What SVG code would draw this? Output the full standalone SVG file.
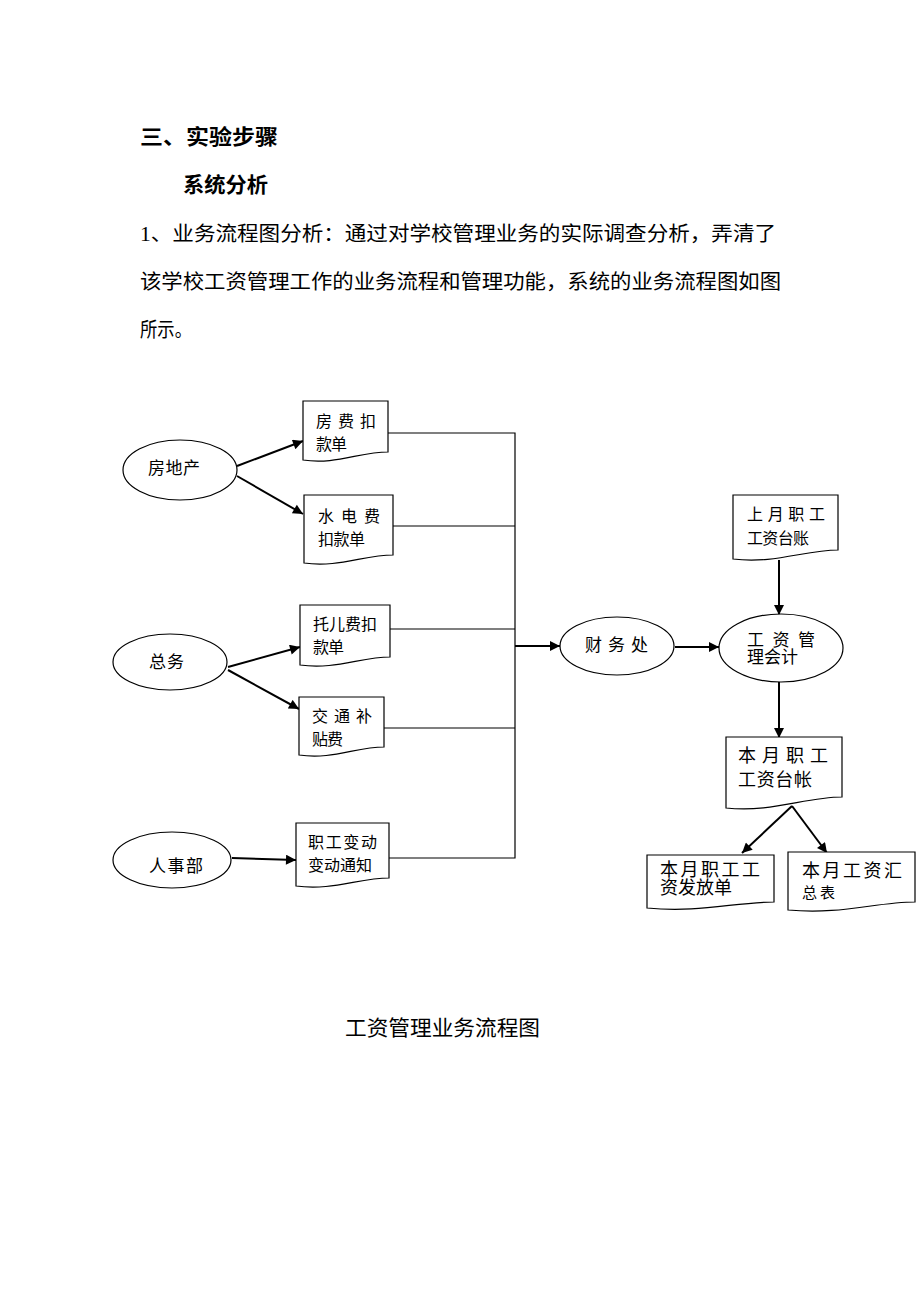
<svg xmlns="http://www.w3.org/2000/svg" width="920" height="1302" viewBox="0 0 920 1302">
<style>
text{font-family:"Liberation Serif","Noto Sans CJK SC",serif;fill:#000}
.h{font-weight:bold;font-size:21px}
.p{font-size:20px}
.n{font-size:16px}
.s{fill:#fff;stroke:#000;stroke-width:1.2}
.c{fill:none;stroke:#000;stroke-width:1.2}
.a{fill:none;stroke:#000;stroke-width:2;marker-end:url(#ar)}
</style>
<defs>
<marker id="ar" viewBox="0 0 10 10" refX="10" refY="5" markerWidth="6" markerHeight="5" orient="auto" markerUnits="strokeWidth">
<path d="M0,0 L10,5 L0,10 Z" fill="#000"/>
</marker>
</defs>
<rect width="920" height="1302" fill="#fff"/>

<g id="header">
<text class="h" x="140" y="144" textLength="138" lengthAdjust="spacingAndGlyphs">三、实验步骤</text>
<text class="h" x="183" y="192" textLength="85" lengthAdjust="spacingAndGlyphs">系统分析</text>
<text class="p" x="140" y="241" textLength="636" lengthAdjust="spacingAndGlyphs">1、业务流程图分析：通过对学校管理业务的实际调查分析，弄清了</text>
<text class="p" x="140" y="289" textLength="641" lengthAdjust="spacingAndGlyphs">该学校工资管理工作的业务流程和管理功能，系统的业务流程图如图</text>
<text class="p" x="140" y="337" textLength="52" lengthAdjust="spacingAndGlyphs">所示。</text>
</g>

<g id="connectors">
<path class="c" d="M388,433 H515 V858 H389"/>
<path class="c" d="M393,526 H515"/>
<path class="c" d="M390,629 H515"/>
<path class="c" d="M384,728 H515"/>
<path class="a" d="M515,646 H560"/>
<path class="a" d="M237,466 L303,441"/>
<path class="a" d="M237,476 L303,514"/>
<path class="a" d="M228,667 L300,647"/>
<path class="a" d="M228,670 L299,709"/>
<path class="a" d="M232,858 L296,860"/>
<path class="a" d="M675,647 H719"/>
<path class="a" d="M779,560 V615"/>
<path class="a" d="M779,682 V738"/>
<path class="a" d="M792,806 L742,853"/>
<path class="a" d="M792,806 L827,853"/>
</g>

<g id="fangdichan">
<ellipse class="s" cx="180" cy="470" rx="57" ry="30"/>
<text class="n" x="148" y="474" textLength="52" style="font-size:17px">房地产</text>
</g>
<g id="zongwu">
<ellipse class="s" cx="170" cy="662" rx="57" ry="28"/>
<text class="n" x="149" y="668" textLength="35" style="font-size:17px">总务</text>
</g>
<g id="renshibu">
<ellipse class="s" cx="172" cy="860" rx="59" ry="28"/>
<text class="n" x="149" y="872" textLength="54" style="font-size:17px">人事部</text>
</g>

<g id="doc-fangfei">
<path class="s" d="M303,401 H388 V452 C360,452 335,465 303,460 Z"/>
<text class="n" x="316" y="427" textLength="60" lengthAdjust="spacing">房 费 扣</text>
<text class="n" x="316" y="450" textLength="31">款单</text>
</g>
<g id="doc-shuidian">
<path class="s" d="M304,495 H393 V555 C364,555 338,568 304,563 Z"/>
<text class="n" x="318" y="522" textLength="62" lengthAdjust="spacing">水 电 费</text>
<text class="n" x="318" y="545" textLength="47">扣款单</text>
</g>
<g id="doc-tuoer">
<path class="s" d="M300,605 H390 V657 C361,657 335,670 300,665 Z"/>
<text class="n" x="313" y="630" textLength="64">托儿费扣</text>
<text class="n" x="313" y="653" textLength="31">款单</text>
</g>
<g id="doc-jiaotong">
<path class="s" d="M299,697 H384 V747 C356,747 332,760 299,755 Z"/>
<text class="n" x="312" y="722" textLength="60" lengthAdjust="spacing">交 通 补</text>
<text class="n" x="312" y="745" textLength="31">贴费</text>
</g>
<g id="doc-zhigong">
<path class="s" d="M296,823 H389 V878 C359,878 332,891 296,886 Z"/>
<text class="n" x="308" y="848" textLength="69">职工变动</text>
<text class="n" x="308" y="871" textLength="64">变动通知</text>
</g>

<g id="caiwuchu">
<ellipse class="s" cx="617" cy="646" rx="57" ry="29"/>
<text class="n" x="585" y="651" textLength="63" lengthAdjust="spacing" style="font-size:17px">财 务 处</text>
</g>
<g id="kuaiji">
<ellipse class="s" cx="781" cy="648" rx="62" ry="34"/>
<text class="n" x="747" y="646" textLength="68" lengthAdjust="spacing" style="font-size:17px">工 资 管</text>
<text class="n" x="747" y="663" textLength="51" style="font-size:17px">理会计</text>
</g>
<g id="doc-shangyue">
<path class="s" d="M733,495 H838 V550 C805,550 775,564 733,559 Z"/>
<text class="n" x="747" y="520" textLength="78" lengthAdjust="spacing">上 月 职 工</text>
<text class="n" x="747" y="544" textLength="62">工资台账</text>
</g>
<g id="doc-benyue">
<path class="s" d="M726,737 H842 V797 C805,797 772,813 726,808 Z"/>
<text class="n" x="738" y="762" textLength="90" lengthAdjust="spacing" style="font-size:18px">本 月 职 工</text>
<text class="n" x="738" y="786" textLength="74" style="font-size:18px">工资台帐</text>
</g>
<g id="doc-fafang">
<path class="s" d="M647,855 H774 V902 C735,902 700,913 647,908 Z"/>
<text class="n" x="660" y="876" textLength="100" style="font-size:18px">本月职工工</text>
<text class="n" x="660" y="894" textLength="72" style="font-size:18px">资发放单</text>
</g>
<g id="doc-huizong">
<path class="s" d="M788,852 H915 V902 C876,902 841,915 788,910 Z"/>
<text class="n" x="802" y="877" textLength="100" style="font-size:18px">本月工资汇</text>
<text class="n" x="802" y="898" textLength="33" style="font-size:15px">总表</text>
</g>

<g id="caption">
<text class="p" x="345" y="1035" textLength="195" lengthAdjust="spacingAndGlyphs" style="font-size:21px">工资管理业务流程图</text>
</g>
</svg>
